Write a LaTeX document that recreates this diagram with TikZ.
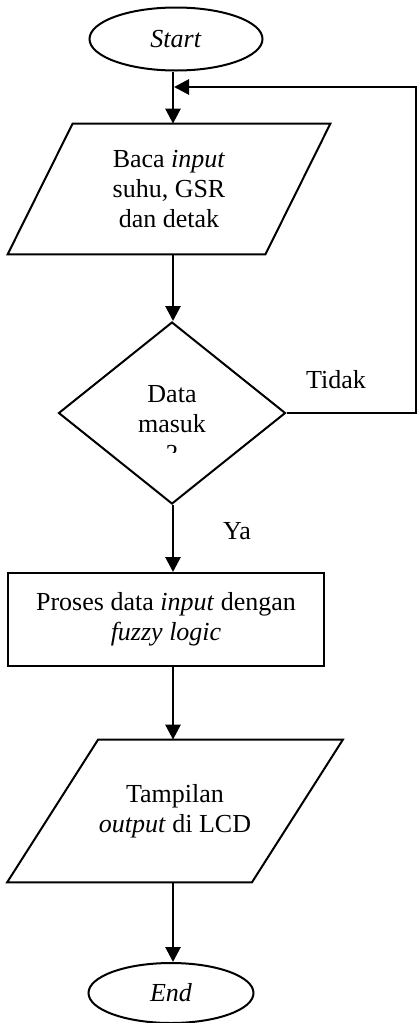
\documentclass[tikz,border=0pt]{standalone}
\usepackage{fontspec}
\setmainfont{Liberation Serif}
\usetikzlibrary{shapes.geometric,arrows.meta,calc}

\begin{document}
\begin{tikzpicture}[x=0.5pt,y=-0.5pt,
    every node/.style={font=\fontsize{13pt}{15pt}\selectfont},
    border/.style={draw,line width=1pt},
    terminal/.style={border,ellipse,inner sep=0pt},
    process/.style={border,rectangle,inner sep=0pt,align=center},
    decision/.style={border,diamond,inner sep=0pt},
    io/.style={rectangle,inner sep=0pt,align=center},
    arrow/.style={line width=1.4pt,-{Triangle[length=7.5pt,width=7.5pt]}}]
    \useasboundingbox (0,0) rectangle (417,1023);

    % Nodes
    \coordinate (col) at (173,0);
    \node[terminal,minimum width=86.5pt,minimum height=31.5pt] (start) at (176,39) {\textit{Start}};
    \node[io,minimum width=128.5pt,minimum height=65pt] (inp) at (169,189) {Baca \textit{input}\\suhu, GSR\\dan detak};
    \node[decision,minimum width=113.5pt,minimum height=91pt] (dec) at (172,413) {};
    \begin{scope}
        \clip (60,380) rectangle (285,452);
        \node[io] (dectxt) at (172,424) {Data\\masuk\\?};
    \end{scope}
    \node[process,minimum width=158pt,minimum height=46.5pt] (proc) at (166,619.5) {Proses data \textit{input} dengan\\\textit{fuzzy logic}};
    \node[io,minimum width=122pt,minimum height=71pt] (out) at (175,811) {Tampilan\\\textit{output} di LCD};
    \node[terminal,minimum width=82.5pt,minimum height=30pt] (end) at (171,993) {\textit{End}};

    % Parallelograms
    \draw[border] ($(inp.north west)+(16.25pt,0)$) -- ($(inp.north east)+(16.25pt,0)$)
        -- ($(inp.south east)+(-16.25pt,0)$) -- ($(inp.south west)+(-16.25pt,0)$) -- cycle;
    \draw[border] ($(out.north west)+(22.75pt,0)$) -- ($(out.north east)+(22.75pt,0)$)
        -- ($(out.south east)+(-22.75pt,0)$) -- ($(out.south west)+(-22.75pt,0)$) -- cycle;

    % Labels
    \node (tidak) at (336,380) {Tidak};
    \node (ya) at (237,531) {Ya};

    % Arrows
    \coordinate (turn) at (416,87);
    \coordinate (merge) at (174,87);
    \draw[arrow] (col |- start.south) -- (col |- inp.north);
    \draw[arrow] (col |- inp.south) -- (col |- dec.north);
    \draw[arrow] (col |- dec.south) -- (col |- proc.north);
    \draw[arrow] (col |- proc.south) -- (col |- out.north);
    \draw[arrow] (col |- out.south) -- (col |- end.north);
    \draw[arrow] (dec.east) -| (turn) -- (merge);
\end{tikzpicture}
\end{document}
